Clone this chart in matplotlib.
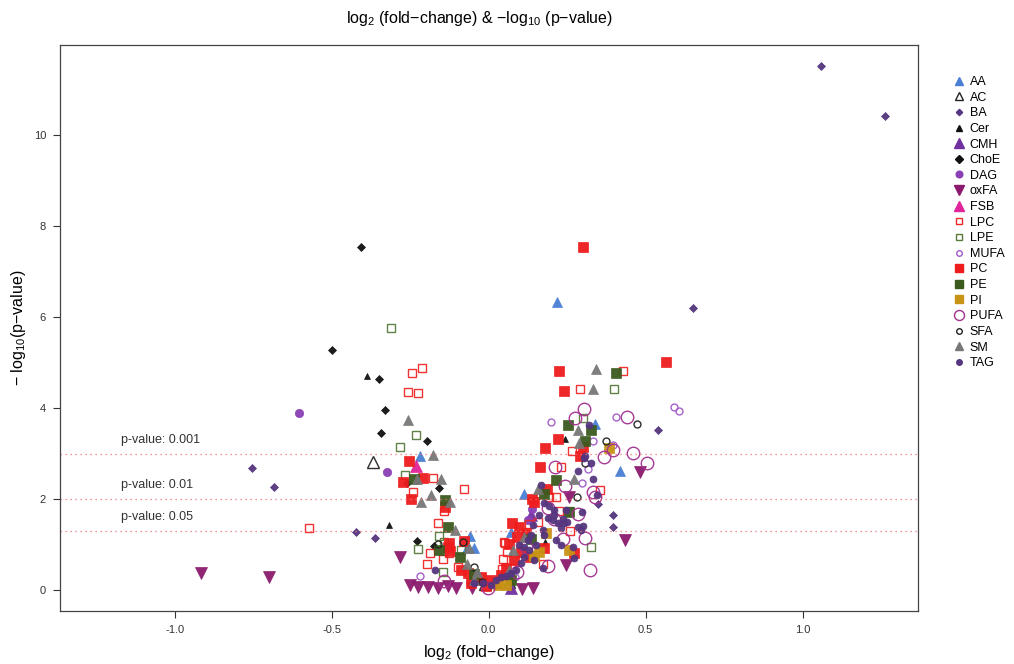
import math
import matplotlib
matplotlib.use("Agg")
import matplotlib.pyplot as plt
from matplotlib.lines import Line2D

plt.rcParams['font.family'] = ['Liberation Sans', 'DejaVu Sans']
plt.rcParams['axes.unicode_minus'] = False
plt.rcParams['mathtext.fontset'] = 'custom'
plt.rcParams['mathtext.rm'] = 'Liberation Sans'
plt.rcParams['mathtext.it'] = 'Liberation Sans:italic'
plt.rcParams['mathtext.default'] = 'regular'

# ================== Data: log2 fold-change / -log10 p-value per lipid class ==================
AA_x = [0.217, -0.220, 0.417, 0.338, 0.111, -0.061, -0.070, -0.048, 0.070]
AA_y = [6.33, 2.95, 2.62, 3.65, 2.11, 1.19, 0.92, 0.92, 1.27]

AC_x = [-0.369, 0.064, -0.013]
AC_y = [2.81, 0.18, 0.13]

BA_x = [1.057, 1.261, 0.650, 0.538, -0.755, -0.685, -0.424, -0.363, 0.347, 0.395, 0.395]
BA_y = [11.52, 10.42, 6.20, 3.52, 2.68, 2.26, 1.27, 1.14, 1.89, 1.65, 1.38]

Cer_x = [-0.389, -0.318, 0.242, 0.178]
Cer_y = [4.70, 1.43, 3.32, 1.05]

CMH_x = [0.134, 0.070]
CMH_y = [1.65, 0.05]

ChoE_x = [-0.408, -0.500, -0.350, -0.331, -0.344, -0.197, -0.261, -0.159, -0.229, -0.175]
ChoE_y = [7.54, 5.27, 4.64, 3.96, 3.45, 3.27, 2.35, 2.24, 1.08, 0.97]

DAG_x = [-0.605, -0.325, 0.137, 0.125]
DAG_y = [3.89, 2.59, 1.78, 1.55]

oxFA_x = [-0.917, -0.700, -0.283, 0.481, 0.433, 0.245, 0.105, 0.140, -0.252, -0.226,
          -0.194, -0.162, -0.105, -0.054, 0.255, -0.131]
oxFA_y = [0.37, 0.29, 0.73, 2.59, 1.10, 0.55, 0.02, 0.04, 0.11, 0.07,
          0.07, 0.04, 0.04, 0.04, 2.04, 0.09]

FSB_x = [-0.233]
FSB_y = [2.73]

LPC_x = [-0.245, -0.213, -0.258, -0.226, -0.178, -0.080, -0.242, -0.573, -0.143, -0.162,
         -0.188, -0.197, -0.147, -0.127, -0.099, 0.041, 0.051, 0.057, 0.427, 0.290,
         0.229, 0.264, 0.354, 0.213, 0.191, 0.223, 0.258, 0.156, 0.127, 0.048,
         0.045, 0.073, 0.172]
LPC_y = [4.77, 4.88, 4.35, 4.33, 2.46, 2.22, 2.15, 1.36, 1.74, 1.47,
         0.81, 0.57, 0.68, 0.81, 0.51, 0.46, 1.03, 0.84, 4.81, 4.42,
         2.71, 3.06, 2.20, 2.04, 2.04, 1.74, 1.30, 1.49, 1.45, 1.05,
         0.68, 0.48, 0.57]

LPE_x = [-0.312, -0.232, -0.283, -0.267, -0.226, -0.159, -0.147, -0.089, 0.398, 0.299,
         0.325, 0.255, -0.143]
LPE_y = [5.76, 3.41, 3.14, 2.53, 0.90, 1.19, 0.40, 0.88, 4.42, 3.78,
         0.95, 1.74, 1.05]

MUFA_x = [0.589, 0.605, 0.197, 0.404, 0.331, 0.315, 0.296, 0.395, 0.083, -0.220]
MUFA_y = [4.02, 3.93, 3.69, 3.80, 3.27, 2.66, 2.35, 3.19, 0.29, 0.31]

PC_x = [0.299, 0.564, 0.223, 0.239, 0.220, 0.178, 0.299, 0.290, 0.162, 0.137,
        0.143, 0.185, 0.073, 0.096, 0.118, 0.089, 0.064, 0.175, 0.271, 0.131,
        -0.255, -0.210, -0.274, -0.248, -0.140, -0.127, -0.131, -0.080, -0.124, -0.089,
        -0.067, -0.041, -0.025, 0.006, 0.022, 0.038, 0.054, -0.057, 0.080, 0.102,
        -0.010]
PC_y = [7.54, 5.01, 4.81, 4.37, 3.32, 3.12, 3.14, 2.95, 2.70, 2.00,
        1.93, 2.22, 1.47, 1.38, 1.25, 1.16, 1.01, 0.92, 0.81, 0.73,
        2.84, 2.46, 2.37, 2.00, 1.82, 1.03, 0.95, 1.08, 0.86, 0.44,
        0.37, 0.22, 0.29, 0.22, 0.15, 0.33, 0.48, 0.15, 0.66, 0.84,
        0.09]

PE_x = [0.404, 0.252, 0.325, 0.306, 0.213, 0.175, 0.255, 0.134, -0.048, -0.239,
        -0.140, -0.131, -0.159, -0.092, 0.070]
PE_y = [4.77, 3.63, 3.52, 3.27, 2.42, 2.11, 1.71, 1.12, 0.35, 2.44,
        1.98, 1.38, 0.88, 0.73, 0.22]

PI_x = [0.382, 0.255, 0.182, 0.159, 0.143, 0.029, 0.054]
PI_y = [3.12, 0.88, 1.25, 0.84, 0.75, 0.11, 0.11]

PUFA_x = [0.303, 0.274, 0.439, 0.395, 0.366, 0.459, 0.503, 0.210, 0.242, 0.331,
          0.338, 0.188, 0.283, 0.207, 0.236, 0.306, 0.188, 0.322, 0.089, 0.118,
          -0.003, -0.143]
PUFA_y = [3.98, 3.78, 3.80, 3.08, 2.92, 3.01, 2.79, 2.70, 2.29, 2.15,
          2.04, 1.80, 1.67, 1.56, 1.12, 1.14, 0.53, 0.44, 0.40, 0.95,
          0.04, 0.20]

SFA_x = [0.471, 0.373, 0.306, 0.280, -0.083, -0.048, -0.022, -0.162]
SFA_y = [3.65, 3.27, 2.79, 2.04, 1.05, 0.51, 0.18, 1.01]

SM_x = [0.341, 0.331, 0.283, 0.287, 0.271, 0.156, 0.076, 0.111, 0.064, -0.048,
        -0.258, -0.178, -0.153, -0.229, -0.185, -0.217, -0.124, -0.108, -0.064, -0.070,
        -0.038]
SM_y = [4.86, 4.42, 3.52, 3.23, 2.44, 2.22, 0.88, 1.16, 0.44, 0.22,
        3.74, 2.97, 2.44, 2.44, 2.09, 1.93, 1.93, 1.32, 0.92, 0.57,
        0.40]

TAG_x = [0.283, 0.331, 0.166, 0.175, 0.191, 0.207, 0.188, 0.204, 0.220, 0.236,
         0.248, 0.283, 0.293, 0.172, 0.175, 0.134, 0.124, 0.111, 0.096, 0.127,
         0.111, 0.102, 0.086, 0.070, 0.054, 0.038, 0.022, 0.172, 0.143, 0.268,
         0.271, 0.207, 0.229, 0.245, 0.303, 0.318, 0.325, 0.306, 0.344, 0.296,
         0.299, 0.239, -0.172, -0.048, -0.019, 0.006, 0.150, 0.213, 0.229, 0.159,
         0.140]
TAG_y = [2.62, 2.44, 2.31, 1.91, 1.85, 1.76, 1.58, 1.54, 1.47, 1.56,
         1.49, 1.38, 1.32, 1.32, 1.21, 1.21, 1.10, 0.95, 0.99, 0.88,
         0.73, 0.59, 0.44, 0.37, 0.31, 0.29, 0.22, 0.48, 0.66, 0.95,
         0.70, 1.65, 1.36, 1.76, 2.90, 3.63, 2.79, 2.95, 2.09, 1.71,
         1.41, 1.47, 0.44, 0.15, 0.15, 0.11, 0.99, 1.10, 0.99, 1.65,
         1.43]

classes = ["AA", "AC", "BA", "Cer", "CMH", "ChoE", "DAG", "oxFA", "FSB", "LPC",
           "LPE", "MUFA", "PC", "PE", "PI", "PUFA", "SFA", "SM", "TAG"]
data = {
    "AA": (AA_x, AA_y), "AC": (AC_x, AC_y), "BA": (BA_x, BA_y), "Cer": (Cer_x, Cer_y),
    "CMH": (CMH_x, CMH_y), "ChoE": (ChoE_x, ChoE_y), "DAG": (DAG_x, DAG_y),
    "oxFA": (oxFA_x, oxFA_y), "FSB": (FSB_x, FSB_y), "LPC": (LPC_x, LPC_y),
    "LPE": (LPE_x, LPE_y), "MUFA": (MUFA_x, MUFA_y), "PC": (PC_x, PC_y),
    "PE": (PE_x, PE_y), "PI": (PI_x, PI_y), "PUFA": (PUFA_x, PUFA_y),
    "SFA": (SFA_x, SFA_y), "SM": (SM_x, SM_y), "TAG": (TAG_x, TAG_y),
}

thresholds = [0.001, 0.01, 0.05]
threshold_labels = ["p-value: 0.001", "p-value: 0.01", "p-value: 0.05"]

# ================== Styles (marker, size, colour, filled) ==================
styles = {
    "AA":   ("^", 7.0, "#4A7FD4", True),
    "AC":   ("^", 8.0, "#222222", False),
    "BA":   ("D", 4.0, "#55357F", True),
    "Cer":  ("^", 5.0, "#111111", True),
    "CMH":  ("^", 8.5, "#7030A0", True),
    "ChoE": ("D", 4.5, "#111111", True),
    "DAG":  ("o", 6.0, "#8A3FB5", True),
    "oxFA": ("v", 8.5, "#8B1A6E", True),
    "FSB":  ("^", 8.5, "#E0249A", True),
    "LPC":  ("s", 6.0, "#F02828", False),
    "LPE":  ("s", 6.0, "#5A7A3A", False),
    "MUFA": ("o", 5.0, "#A05AC8", False),
    "PC":   ("s", 6.5, "#EE1C1C", True),
    "PE":   ("s", 6.5, "#3B5A1E", True),
    "PI":   ("s", 6.5, "#C79415", True),
    "PUFA": ("o", 9.0, "#A3308F", False),
    "SFA":  ("o", 5.0, "#222222", False),
    "SM":   ("^", 7.5, "#777777", True),
    "TAG":  ("o", 5.0, "#55357F", True),
}

fig = plt.figure(figsize=(10.14, 6.64), dpi=100)
ax = fig.add_axes([60 / 1014, 53 / 664, 858 / 1014, 566 / 664])

for name in classes:
    xs, ys = data[name]
    mk, ms, col, filled = styles[name]
    ax.plot(xs, ys, linestyle="none", marker=mk, markersize=ms,
            markerfacecolor=col if filled else "none", markeredgecolor=col,
            markeredgewidth=1.0 if not filled else 0.5, alpha=0.95, label=name)

for p, lab in zip(thresholds, threshold_labels):
    yv = -math.log10(p)
    ax.axhline(yv, color="#F07070", linestyle=(0, (1, 3)), linewidth=0.9)
    ax.text(-1.172, yv + 0.17, lab, fontsize=9, color="#333333", va="bottom")

ax.set_xlim(-1.365, 1.367)
ax.set_ylim(-0.46, 11.98)
ax.set_xticks([-1.0, -0.5, 0.0, 0.5, 1.0])
ax.set_xticklabels(["-1.0", "-0.5", "0.0", "0.5", "1.0"])
ax.set_yticks([0, 2, 4, 6, 8, 10])
ax.tick_params(axis="both", direction="out", length=5, width=0.8, labelsize=8,
               colors="#333333", pad=5)
for s in ax.spines.values():
    s.set_color("#444444")
    s.set_linewidth(0.9)

ax.set_xlabel(r"log$_2$ (fold$-$change)", fontsize=11.5, labelpad=6)
ax.set_ylabel(r"$-$ log$_{10}$(p$-$value)", fontsize=11.5, labelpad=4)
fig.text(0.473, 1 - 18 / 664, r"log$_2$ (fold$-$change) & $-$log$_{10}$ (p$-$value)",
         ha="center", va="center", fontsize=11.5)

handles = []
for name in classes:
    mk, ms, col, filled = styles[name]
    handles.append(Line2D([], [], linestyle="none", marker=mk, markersize=ms * 0.8,
                          markerfacecolor=col if filled else "none", markeredgecolor=col,
                          markeredgewidth=1.0))
fig.legend(handles, classes, loc="upper left", bbox_to_anchor=(946 / 1014, 1 - 71 / 664),
           frameon=False, fontsize=9, handletextpad=0.3, labelspacing=0.29,
           handlelength=1.2, borderaxespad=0)

fig.savefig("out.png", dpi=100)
